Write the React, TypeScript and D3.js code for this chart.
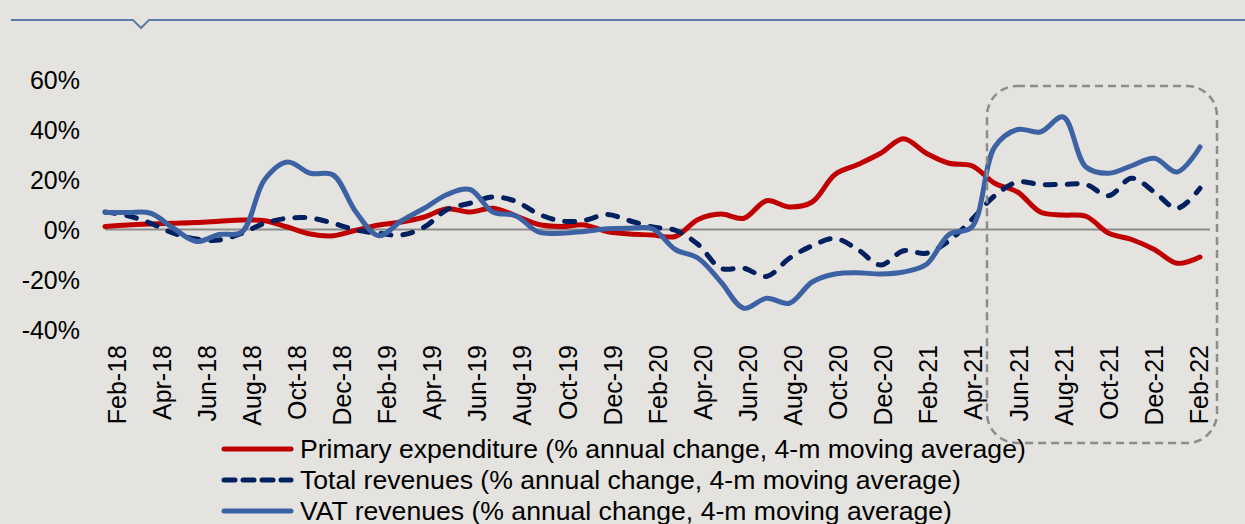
import React from "react";
import * as d3 from "d3";

const months: string[] = [
  "Feb-18","Mar-18","Apr-18","May-18","Jun-18","Jul-18","Aug-18","Sep-18","Oct-18","Nov-18","Dec-18","Jan-19",
  "Feb-19","Mar-19","Apr-19","May-19","Jun-19","Jul-19","Aug-19","Sep-19","Oct-19","Nov-19","Dec-19","Jan-20",
  "Feb-20","Mar-20","Apr-20","May-20","Jun-20","Jul-20","Aug-20","Sep-20","Oct-20","Nov-20","Dec-20","Jan-21",
  "Feb-21","Mar-21","Apr-21","May-21","Jun-21","Jul-21","Aug-21","Sep-21","Oct-21","Nov-21","Dec-21","Jan-22",
  "Feb-22",
];

const primaryExpenditure: number[] = [
  1.2, 1.8, 2.2, 2.5, 2.8, 3.3, 3.8, 3.5, 1, -1.8, -2.5, -0.3,
  1.8, 3, 5, 8.3, 7, 8.5, 5.5, 2, 1.2, 1.8, -0.8, -1.8,
  -2.2, -2.8, 4, 6.2, 4.5, 11.5, 9, 11, 22, 26, 30.5, 36.3,
  30.5, 26.5, 25.5, 18.5, 15, 7, 5.8, 5.3, -1.5, -4, -8, -13.5,
  -11,
];

const totalRevenues: number[] = [
  7, 5.5, 2.5, -1.5, -3.8, -4.2, -1.5, 2.5, 4.5, 4.6, 2.5, -0.2,
  -1.5, -2.2, 1, 8, 10.5, 13, 11.3, 6.2, 3.4, 3.6, 6, 3.5,
  1, -0.3, -6, -15.5, -15.5, -18.8, -11.5, -6.5, -3.6, -8, -14.2, -8.5,
  -9.5, -4.5, 4, 13.5, 19, 18, 18, 18, 13.5, 20.5, 15, 8.5,
  16.5,
];

const vatRevenues: number[] = [
  6.8, 6.8, 6.5, 0.5, -4.8, -2, -1, 20, 27, 22.5, 21.8, 7,
  -2.5, 3.5, 8.5, 14, 16, 7, 5.5, -1, -1.5, -0.8, 0.3, 0.5,
  0.3, -8, -11.5, -21, -31.5, -27.5, -29.5, -21, -17.8, -17.3, -17.8, -17,
  -14, -2, 1, 33, 40, 39, 45, 25, 22.5, 25.5, 28.5, 23,
  33,
];

const yTicks: number[] = [60, 40, 20, 0, -20, -40];

const legendLabels: string[] = [
  "Primary expenditure (% annual change, 4-m moving average)",
  "Total revenues (% annual change, 4-m moving average)",
  "VAT revenues (% annual change, 4-m moving average)",
];

const W = 1245;
const H = 524;
const FONT = "'Liberation Sans', Arial, sans-serif";

export default function App() {
  const idx = months.map((_, i) => i);
  const x = d3.scaleLinear().domain([0, months.length - 1]).range([105, 1200]);
  const xLabel = d3.scaleLinear().domain([0, months.length - 1]).range([116.5, 1199]);
  const y = d3.scaleLinear().domain([-40, 60]).range([329.5, 79.5]);

  const line = d3
    .line<number>()
    .x((_, i) => x(i))
    .y((d) => y(d))
    .curve(d3.curveCatmullRom.alpha(0.5));

  const series = [
    { data: primaryExpenditure, color: "#c00000", dash: undefined as string | undefined },
    { data: totalRevenues, color: "#002060", dash: "10,12" },
    { data: vatRevenues, color: "#3d62a3", dash: undefined as string | undefined },
  ];
  const drawOrder = [0, 1, 2];

  return (
    <svg
      width={W}
      height={H}
      style={{ position: "absolute", left: 0, top: 0, display: "block", background: "#e4e3df" }}
      fontFamily={FONT}
    >
      <rect x={0} y={0} width={W} height={H} fill="#e4e3df" />
      {/* top rule with notch */}
      <path
        d="M11,20 L133,20 L141,28 L149,20 L1245,20"
        fill="none"
        stroke="#5b7ba8"
        strokeWidth={2}
      />

      {/* y tick labels */}
      {yTicks.map((t) => (
        <text
          key={t}
          x={80}
          y={y(t)}
          textAnchor="end"
          dominantBaseline="central"
          fontSize={25}
          fill="#000"
        >
          {t}%
        </text>
      ))}

      {/* zero line */}
      <line x1={105} x2={1210} y1={y(0)} y2={y(0)} stroke="#8c8c8c" strokeWidth={2} />

      {/* series */}
      {drawOrder.map((k) => {
        const s = series[k];
        return (
          <path
            key={k}
            d={line(s.data) || ""}
            fill="none"
            stroke={s.color}
            strokeWidth={5}
            strokeDasharray={s.dash}
            strokeLinecap="round"
            strokeLinejoin="round"
          />
        );
      })}

      {/* x labels */}
      {idx
        .filter((i) => i % 2 === 0)
        .map((i) => (
          <text
            key={i}
            transform={`translate(${xLabel(i)},345) rotate(-90)`}
            textAnchor="end"
            dominantBaseline="central"
            fontSize={25}
            fill="#000"
          >
            {months[i]}
          </text>
        ))}

      {/* highlight box */}
      <rect
        x={987}
        y={86}
        width={230}
        height={357}
        rx={30}
        ry={30}
        fill="none"
        stroke="#8c8c8c"
        strokeWidth={2.5}
        strokeDasharray="8,5"
      />

      {/* legend */}
      {legendLabels.map((lab, i) => {
        const ly = 449 + i * 31;
        const s = series[i];
        return (
          <g key={lab}>
            <line
              x1={224}
              x2={291}
              y1={ly}
              y2={ly}
              stroke={s.color}
              strokeWidth={5}
              strokeDasharray={s.dash ? "11,8" : undefined}
              strokeLinecap="round"
            />
            <text x={300} y={ly} dominantBaseline="central" fontSize={26.6} fill="#000">
              {lab}
            </text>
          </g>
        );
      })}
    </svg>
  );
}
